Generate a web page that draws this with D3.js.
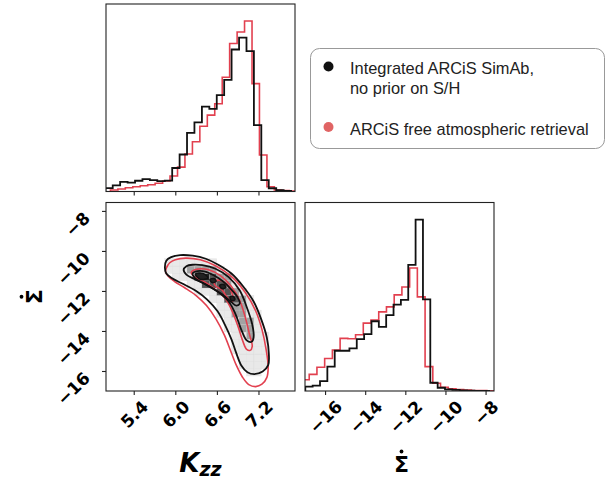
<!DOCTYPE html>
<html><head><meta charset="utf-8">
<script src="https://cdn.jsdelivr.net/npm/d3@7"></script>
<style>body{margin:0;background:#fff}</style>
</head><body>
<svg id="c" width="616" height="479" xmlns="http://www.w3.org/2000/svg"></svg>
<script>
// ---------------- DATA ----------------
const kzzTicks = [5.4, 6.0, 6.6, 7.2];
const sigmaTicks = [-16, -14, -12, -10, -8];
const seriesNames = ["Integrated ARCiS SimAb,\nno prior on S/H", "ARCiS free atmospheric retrieval"];

// K_zz marginal histograms (bin edges, heights; red max = 100)
const kzzEdgesBlack = [4.990,5.097,5.204,5.312,5.419,5.526,5.633,5.740,5.848,5.955,6.062,6.169,6.276,6.384,6.491,6.598,6.705,6.812,6.920,7.027,7.134,7.241,7.348,7.456,7.563,7.670];
const kzzCountsBlack = [2.0,3.6,5.7,5.2,6.3,7.3,6.7,6.1,6.4,13.8,21.7,34.4,40.5,49.8,48.5,56.5,65.5,83.3,90.3,82.4,38.9,6.7,1.9,0.8,0.3];
const kzzEdgesRed = [5.064,5.172,5.279,5.387,5.494,5.602,5.709,5.817,5.924,6.032,6.139,6.247,6.354,6.462,6.569,6.677,6.784,6.892,6.999,7.107,7.214,7.322,7.429,7.537,7.644,7.752];
const kzzCountsRed = [0.9,1.5,2.2,2.8,3.4,4.0,4.8,6.2,9.1,14.3,22.0,29.2,38.3,44.8,51.5,67.0,86.8,93.6,100,63.3,21.4,2.8,0.9,0.5,0.2];

// Sigma-dot marginal histograms (black max = 100)
const sigEdgesBlack = [-16.985,-16.619,-16.252,-15.886,-15.519,-15.153,-14.786,-14.420,-14.053,-13.687,-13.320,-12.954,-12.587,-12.221,-11.854,-11.488,-11.121,-10.755,-10.388,-10.022,-9.655,-9.289,-8.922,-8.556,-8.189,-7.823];
const sigCountsBlack = [2.5,3.1,5.8,14.2,23.5,23.5,24.9,30.3,33.2,40.7,37.4,44.3,50.4,53.2,73.6,100,53.5,4.8,1.9,1.0,0.6,0.4,0.2,0.1,0.1];
const sigEdgesRed = [-17.175,-16.790,-16.405,-16.020,-15.635,-15.250,-14.865,-14.480,-14.095,-13.710,-13.325,-12.940,-12.555,-12.170,-11.785,-11.400,-11.015,-10.630,-10.245,-9.860,-9.475,-9.090,-8.705,-8.320,-7.935,-7.550];
const sigCountsRed = [6.6,9.7,13.9,19.0,23.9,30.7,30.5,32.8,39.6,41.4,46.2,49.1,56.1,60.7,71.8,54.9,14.2,4.5,2.2,1.3,0.8,0.5,0.3,0.2,0.1];

// 2D credible contours [K_zz, Sigma-dot]
const blackContour1 = [[5.85,-10.84],[5.87,-10.49],[5.94,-10.31],[6.07,-10.21],[6.25,-10.24],[6.44,-10.39],[6.62,-10.69],[6.81,-11.13],[6.98,-11.78],[7.13,-12.53],[7.24,-13.42],[7.32,-14.32],[7.35,-15.16],[7.34,-15.71],[7.26,-16.03],[7.14,-16.16],[7.04,-16.06],[6.95,-15.71],[6.88,-15.11],[6.81,-14.42],[6.72,-13.72],[6.61,-13.02],[6.46,-12.43],[6.29,-11.98],[6.10,-11.63],[5.96,-11.38],[5.87,-11.13]];
const blackContour2 = [[6.12,-10.94],[6.16,-10.76],[6.25,-10.69],[6.39,-10.71],[6.58,-10.89],[6.77,-11.31],[6.93,-11.98],[7.03,-12.80],[7.11,-13.67],[7.13,-14.32],[7.10,-14.54],[7.03,-14.47],[6.95,-13.92],[6.87,-13.17],[6.77,-12.53],[6.61,-12.03],[6.44,-11.68],[6.28,-11.41],[6.16,-11.18]];
const blackContour3 = [[6.25,-11.13],[6.32,-11.01],[6.43,-11.03],[6.56,-11.23],[6.69,-11.53],[6.81,-11.93],[6.90,-12.33],[6.93,-12.63],[6.88,-12.73],[6.80,-12.53],[6.68,-12.18],[6.54,-11.88],[6.39,-11.58],[6.29,-11.38]];
const blackContour4 = [
  [[6.29,-11.15],[6.40,-11.12],[6.47,-11.35],[6.36,-11.42]],
  [[6.50,-11.43],[6.56,-11.38],[6.59,-11.52],[6.53,-11.58]],
  [[6.64,-11.72],[6.70,-11.68],[6.73,-11.83],[6.67,-11.88]],
  [[6.79,-12.30],[6.84,-12.28],[6.86,-12.44],[6.81,-12.48]]
];
const redContour1 = [[5.87,-10.86],[5.92,-10.59],[6.00,-10.44],[6.15,-10.36],[6.36,-10.44],[6.58,-10.74],[6.82,-11.31],[7.01,-12.08],[7.16,-13.0],[7.25,-13.92],[7.31,-14.92],[7.34,-15.81],[7.32,-16.33],[7.25,-16.66],[7.16,-16.78],[7.06,-16.68],[6.97,-16.31],[6.88,-15.71],[6.80,-15.01],[6.71,-14.22],[6.59,-13.42],[6.45,-12.73],[6.30,-12.23],[6.13,-11.83],[5.99,-11.53],[5.90,-11.28],[5.86,-11.06]];
const redContour2 = [[6.23,-11.08],[6.32,-10.91],[6.48,-10.94],[6.65,-11.23],[6.81,-11.78],[6.93,-12.48],[7.01,-13.32],[7.07,-14.17],[7.11,-14.77],[7.08,-14.97],[7.03,-14.92],[6.97,-14.47],[6.90,-13.72],[6.81,-12.93],[6.71,-12.33],[6.56,-11.88],[6.41,-11.53],[6.28,-11.31]];
const redContour3 = [[6.56,-11.58],[6.62,-11.46],[6.69,-11.53],[6.77,-11.78],[6.82,-12.13],[6.84,-12.43],[6.80,-12.53],[6.74,-12.28],[6.67,-11.93],[6.59,-11.78]];

// ---------------- LAYOUT ----------------
const BLACK = "#111", RED = "#e2404f", REDDOT = "#e06464";
const svg = d3.select("#c");
const P1 = {x0:106, x1:295, y0:4, y1:191.5};     // top histogram
const P2 = {x0:106, x1:295, y0:202.5, y1:391};   // 2D
const P3 = {x0:305, x1:494, y0:202.5, y1:391};   // right histogram

const xK = d3.scaleLinear([5.0, 7.727], [P2.x0, P2.x1]);
const yS = d3.scaleLinear([-17.0, -7.58], [P2.y1, P2.y0]);
const xS = d3.scaleLinear([-17.0, -7.58], [P3.x0, P3.x1]);
const yTopH = d3.scaleLinear([0, 110], [P1.y1, P1.y0]);
const yRightH = d3.scaleLinear([0, 110], [P3.y1, P3.y0]);

const defs = svg.append("defs");
[["c1",P1],["c2",P2],["c3",P3]].forEach(([id,p])=>{
  defs.append("clipPath").attr("id",id).append("rect")
    .attr("x",p.x0).attr("y",p.y0).attr("width",p.x1-p.x0).attr("height",p.y1-p.y0);
});

function stepPath(edges, counts, xs, ys){
  const p = d3.path();
  p.moveTo(xs(edges[0]), ys(0));
  counts.forEach((c,i)=>{ p.lineTo(xs(edges[i]), ys(c)); p.lineTo(xs(edges[i+1]), ys(c)); });
  p.lineTo(xs(edges[edges.length-1]), ys(0));
  return p.toString();
}

// top histogram
const g1 = svg.append("g").attr("clip-path","url(#c1)");
g1.append("path").attr("d", stepPath(kzzEdgesRed, kzzCountsRed, xK, yTopH))
  .attr("fill","none").attr("stroke",RED).attr("stroke-width",1.6);
g1.append("path").attr("d", stepPath(kzzEdgesBlack, kzzCountsBlack, xK, yTopH))
  .attr("fill","none").attr("stroke",BLACK).attr("stroke-width",1.8);

// right histogram
const g3 = svg.append("g").attr("clip-path","url(#c3)");
g3.append("path").attr("d", stepPath(sigEdgesRed, sigCountsRed, xS, yRightH))
  .attr("fill","none").attr("stroke",RED).attr("stroke-width",1.6);
g3.append("path").attr("d", stepPath(sigEdgesBlack, sigCountsBlack, xS, yRightH))
  .attr("fill","none").attr("stroke",BLACK).attr("stroke-width",1.8);

// 2D density cells (shade from enclosing black contours)
const g2 = svg.append("g").attr("clip-path","url(#c2)");
const shades = ["#ffffff","#e9e9e9","#a2a2a2","#565656","#222222"];
const cells = [];
for (let i=0;i<kzzEdgesBlack.length-1;i++){
  for (let j=0;j<sigEdgesBlack.length-1;j++){
    const c = [(kzzEdgesBlack[i]+kzzEdgesBlack[i+1])/2, (sigEdgesBlack[j]+sigEdgesBlack[j+1])/2];
    let lvl = 0;
    if (d3.polygonContains(blackContour1,c)) lvl++;
    if (d3.polygonContains(blackContour2,c)) lvl++;
    if (d3.polygonContains(blackContour3,c)) lvl++;
    if (blackContour4.some(p=>d3.polygonContains(p,c))) lvl++;
    if (lvl>0) cells.push({i,j,lvl});
  }
}
g2.selectAll("rect.cell").data(cells).join("rect").attr("class","cell")
  .attr("x",d=>xK(kzzEdgesBlack[d.i])).attr("width",d=>xK(kzzEdgesBlack[d.i+1])-xK(kzzEdgesBlack[d.i]))
  .attr("y",d=>yS(sigEdgesBlack[d.j+1])).attr("height",d=>yS(sigEdgesBlack[d.j])-yS(sigEdgesBlack[d.j+1]))
  .attr("fill",d=>shades[d.lvl]).attr("stroke","#d0d0d0").attr("stroke-width",0.3).attr("stroke-opacity",0.6);

const cline = d3.line().x(d=>xK(d[0])).y(d=>yS(d[1])).curve(d3.curveCatmullRomClosed.alpha(0.5));
[redContour1, redContour2, redContour3].forEach(c=>{
  g2.append("path").attr("d",cline(c)).attr("fill","none").attr("stroke",RED).attr("stroke-width",1.6);
});
[blackContour1, blackContour2, blackContour3].forEach(c=>{
  g2.append("path").attr("d",cline(c)).attr("fill","none").attr("stroke",BLACK).attr("stroke-width",1.8);
});
blackContour4.forEach(c=>{
  g2.append("path").attr("d",cline(c)).attr("fill","#222").attr("stroke",BLACK).attr("stroke-width",1.5);
});

// frames
[P1,P2,P3].forEach(p=>{
  svg.append("rect").attr("x",p.x0).attr("y",p.y0).attr("width",p.x1-p.x0).attr("height",p.y1-p.y0)
    .attr("fill","none").attr("stroke","#222").attr("stroke-width",1.1);
});

// axes
const TICKFS = 17, TICKH = 0.73*TICKFS;
const fmt1 = d3.format(".1f"), fmt0 = d3.format("d");
function styleAxis(g){
  g.select(".domain").remove();
  g.attr("font-family","DejaVu Sans").attr("font-size",TICKFS).attr("font-weight","bold");
  g.selectAll(".tick line").attr("stroke","#222").attr("stroke-width",1.1);
  g.selectAll(".tick text").attr("fill","#000");
}
function rotBottom(g){
  g.selectAll(".tick text").each(function(){
    const t = d3.select(this);
    t.attr("dy",null).attr("text-anchor","end").attr("x",0).attr("y",0);
    const w = this.getComputedTextLength();
    t.attr("transform",`translate(${0.354*(w+TICKH)},${8+0.707*TICKH}) rotate(-45)`);
  });
}
function rotLeft(g){
  g.selectAll(".tick text").each(function(){
    const t = d3.select(this);
    t.attr("dy",null).attr("text-anchor","end").attr("x",0).attr("y",0)
     .attr("transform",`translate(-15,8) rotate(-45)`);
  });
}
svg.append("g").attr("transform",`translate(0,${P1.y1})`)
  .call(d3.axisBottom(xK).tickValues(kzzTicks).tickSize(4).tickFormat("")).call(styleAxis);
svg.append("g").attr("transform",`translate(0,${P2.y1})`)
  .call(d3.axisBottom(xK).tickValues(kzzTicks).tickSize(4).tickFormat(fmt1)).call(styleAxis).call(rotBottom);
svg.append("g").attr("transform",`translate(${P2.x0},0)`)
  .call(d3.axisLeft(yS).tickValues(sigmaTicks).tickSize(4).tickFormat(fmt0)).call(styleAxis).call(rotLeft);
svg.append("g").attr("transform",`translate(0,${P3.y1})`)
  .call(d3.axisBottom(xS).tickValues(sigmaTicks).tickSize(4).tickFormat(fmt0)).call(styleAxis).call(rotBottom);

// axis titles
const kt = svg.append("text").attr("x",(P2.x0+P2.x1)/2).attr("y",472).attr("text-anchor","middle")
  .attr("font-family","DejaVu Sans").attr("font-weight","bold").attr("font-style","italic");
kt.append("tspan").attr("font-size",26).text("K");
kt.append("tspan").attr("font-size",19).attr("dy",4).text("zz");

// Sigma-dot label: sigma glyph plus the accent dot
function sigmaDotLabel(g){
  g.append("text").attr("font-family","DejaVu Sans").attr("font-weight","bold")
    .attr("font-size",22).attr("text-anchor","middle").attr("x",0).attr("y",0).text("\u03A3");
  g.append("circle").attr("cx",0).attr("cy",-20.5).attr("r",1.9).attr("fill","#000");
}
svg.append("g").attr("transform",`translate(${(P3.x0+P3.x1)/2+2},472)`).call(sigmaDotLabel);
svg.append("g").attr("transform",`translate(42,${(P2.y0+P2.y1)/2}) rotate(-90)`).call(sigmaDotLabel);

// legend
const lg = svg.append("g");
lg.append("rect").attr("x",310.5).attr("y",48.5).attr("width",294).attr("height",100).attr("rx",9)
  .attr("fill","#fff").attr("stroke","#999").attr("stroke-width",1);
const legendItems = [{c:BLACK, y:66.5, lines:seriesNames[0].split("\n")},{c:REDDOT, y:127, lines:seriesNames[1].split("\n")}];
legendItems.forEach(it=>{
  lg.append("circle").attr("cx",328.5).attr("cy",it.y).attr("r",5).attr("fill",it.c);
  const t = lg.append("text").attr("font-family","Liberation Sans").attr("font-size",16.4).attr("fill","#222");
  it.lines.forEach((ln,k)=>{
    t.append("tspan").attr("x",350).attr("y",it.y+7.5+k*20).text(ln);
  });
});
</script>
</body></html>
